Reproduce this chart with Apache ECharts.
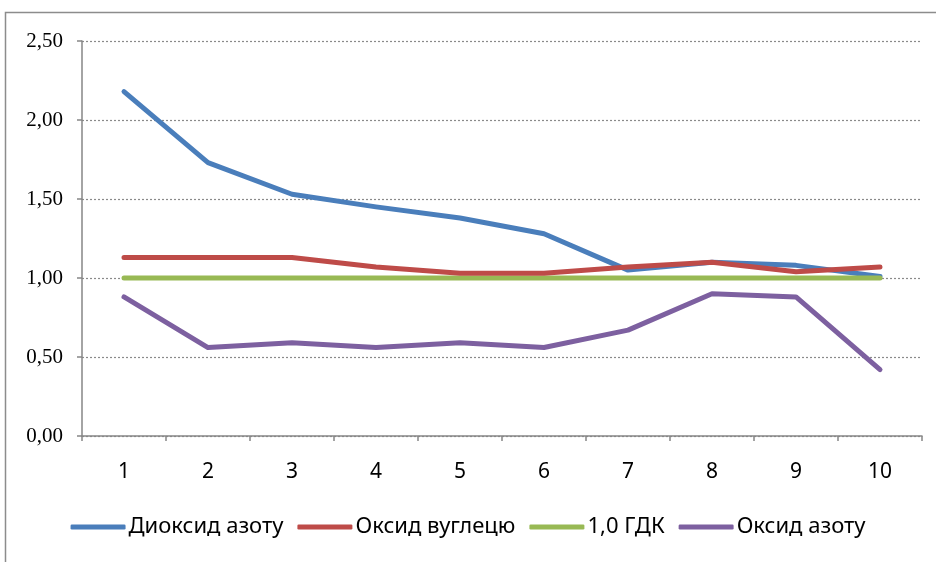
<!DOCTYPE html>
<html>
<head>
<meta charset="utf-8">
<script src="https://cdn.jsdelivr.net/npm/echarts@6/dist/echarts.min.js"></script>
<style>html,body{margin:0;padding:0;background:#fff;}#c{width:936px;height:562px;}</style>
</head>
<body>
<div id="c"></div>
<script>
var categories = ['1','2','3','4','5','6','7','8','9','10'];
var seriesNames = ['Диоксид азоту','Оксид вуглецю','1,0 ГДК','Оксид азоту'];
var no2 = [2.18,1.73,1.53,1.45,1.38,1.28,1.05,1.10,1.08,1.01];
var co = [1.13,1.13,1.13,1.07,1.03,1.03,1.07,1.10,1.04,1.07];
var gdk = [1.00,1.00,1.00,1.00,1.00,1.00,1.00,1.00,1.00,1.00];
var no = [0.88,0.56,0.59,0.56,0.59,0.56,0.67,0.90,0.88,0.42];
var colors = ['#4A7EBB','#BE4B48','#98B954','#7D60A0'];
var dataSets = [no2, co, gdk, no];

var chart = echarts.init(document.getElementById('c'));
var axisColor = '#868686';
chart.setOption({
  animation: false,
  backgroundColor: '#fff',
  graphic: [{
    type: 'rect', shape: {x: 5.5, y: 12.5, width: 1000, height: 1000},
    style: {fill: 'none', stroke: '#8c8c8c', lineWidth: 1.5}, silent: true, z: -1
  }],
  grid: {left: 82, top: 41, right: 14, bottom: 126, containLabel: false},
  legend: {
    bottom: 19, left: 'center',
    itemWidth: 55, itemHeight: 5, itemGap: 14,
    icon: 'roundRect',
    textStyle: {fontFamily: 'Noto Sans', fontSize: 22, color: '#000', padding: [0,0,0,-2]},
    data: seriesNames
  },
  xAxis: {
    type: 'category', data: categories, boundaryGap: true,
    axisLine: {lineStyle: {color: axisColor, width: 1.5}},
    axisTick: {show: true, length: 5, lineStyle: {color: axisColor, width: 1.5}},
    axisLabel: {fontFamily: 'Noto Sans', fontSize: 21, color: '#000', margin: 26},
    splitLine: {show: false}
  },
  yAxis: {
    type: 'value', min: 0, max: 2.5, interval: 0.5,
    axisLine: {show: true, lineStyle: {color: axisColor, width: 1.5}},
    axisTick: {show: true, length: 5, lineStyle: {color: axisColor, width: 1.5}},
    axisLabel: {fontFamily: 'Liberation Serif', fontSize: 21, color: '#000', margin: 19,
      formatter: function(v){ return v.toFixed(2).replace('.', ','); }},
    splitLine: {show: true, lineStyle: {color: '#8a8a8a', type: [2,2], width: 1.2}}
  },
  series: seriesNames.map(function(n, i){
    return {
      name: n, type: 'line', data: dataSets[i], showSymbol: false, symbol: 'none',
      lineStyle: {color: colors[i], width: 5, cap: 'round', join: 'round'},
      itemStyle: {color: colors[i]}, z: 2 + (i === 1 ? 3 : i === 2 ? 1 : i)
    };
  })
});
</script>
</body>
</html>
